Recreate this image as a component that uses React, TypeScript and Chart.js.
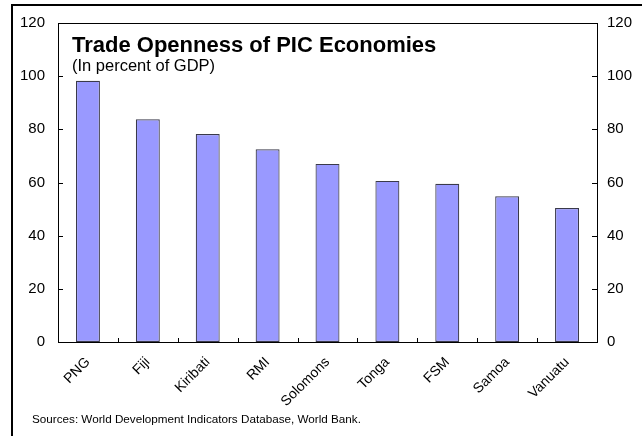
import React, { useEffect, useRef } from "react";
import { Chart, registerables } from "chart.js";

Chart.register(...registerables);

const categories = ["PNG", "Fiji", "Kiribati", "RMI", "Solomons", "Tonga", "FSM", "Samoa", "Vanuatu"];
const openness = [98.3, 83.8, 78.2, 72.5, 67.0, 60.6, 59.5, 54.8, 50.4];
const yTicks = [0, 20, 40, 60, 80, 100, 120];
const titleText = "Trade Openness of PIC Economies";
const subtitleText = "(In percent of GDP)";
const sourceText = "Sources: World Development Indicators Database, World Bank.";

const FONT = "'Liberation Sans', Arial, sans-serif";

const decorPlugin = {
  id: "decor",
  afterDraw(chart: any) {
    const { ctx, chartArea } = chart;
    const { left, right, top, bottom } = chartArea;
    const y = chart.scales.y;
    const x = chart.scales.x;
    ctx.save();
    ctx.strokeStyle = "#000";
    ctx.lineWidth = 1;
    ctx.strokeRect(Math.round(left) + 0.5, Math.round(top) + 0.5, Math.round(right - left), Math.round(bottom - top));
    ctx.beginPath();
    yTicks.forEach((v) => {
      const py = Math.round(y.getPixelForValue(v)) + 0.5;
      ctx.moveTo(left, py);
      ctx.lineTo(left + 5, py);
      ctx.moveTo(right, py);
      ctx.lineTo(right - 5, py);
    });
    for (let i = 1; i < categories.length; i++) {
      const px = Math.round((x.getPixelForValue(i - 1) + x.getPixelForValue(i)) / 2) + 0.5;
      ctx.moveTo(px, bottom);
      ctx.lineTo(px, bottom - 4);
    }
    ctx.stroke();
    ctx.fillStyle = "#000";
    ctx.textAlign = "left";
    ctx.textBaseline = "alphabetic";
    ctx.font = `bold 22px ${FONT}`;
    ctx.fillText(titleText, 72, 52);
    ctx.font = `16.5px ${FONT}`;
    ctx.fillText(subtitleText, 72, 71);
    ctx.font = `11.7px ${FONT}`;
    ctx.textBaseline = "middle";
    ctx.fillText(sourceText, 32, 420);
    ctx.restore();
  },
};

export default function App() {
  const ref = useRef<HTMLCanvasElement>(null);
  useEffect(() => {
    if (!ref.current) return;
    const chart = new Chart(ref.current, {
      type: "bar",
      data: {
        labels: categories,
        datasets: [
          {
            data: openness,
            backgroundColor: "#9999FF",
            borderColor: "#3a3a4a",
            borderWidth: 1.2,
            borderSkipped: false,
            categoryPercentage: 0.8,
            barPercentage: 0.5,
          },
        ],
      },
      options: {
        animation: false,
        responsive: false,
        maintainAspectRatio: false,
        layout: { padding: { top: 23, left: 0, right: 0, bottom: 0 } },
        plugins: { legend: { display: false }, tooltip: { enabled: false }, title: { display: false } },
        scales: {
          x: {
            type: "category",
            offset: true,
            grid: { display: false, drawTicks: false },
            border: { display: false },
            ticks: {
              minRotation: 45,
              maxRotation: 45,
              padding: 12,
              color: "#000",
              font: { family: FONT, size: 14 },
              autoSkip: false,
            },
            afterFit(scale: any) {
              scale.height = 94;
            },
          },
          y: {
            position: "left",
            min: 0,
            max: 120,
            grid: { display: false, drawTicks: false },
            border: { display: false },
            ticks: {
              stepSize: 20,
              padding: 13,
              color: "#000",
              font: { family: FONT, size: 15 },
            },
            afterFit(scale: any) {
              scale.width = 58;
            },
          },
          y2: {
            position: "right",
            min: 0,
            max: 120,
            grid: { display: false, drawTicks: false },
            border: { display: false },
            ticks: {
              stepSize: 20,
              padding: 10,
              color: "#000",
              font: { family: FONT, size: 15 },
            },
            afterFit(scale: any) {
              scale.width = 45;
            },
          },
        },
      },
      plugins: [decorPlugin],
    });
    return () => chart.destroy();
  }, []);
  return (
    <div style={{ position: "absolute", left: 0, top: 0, width: 642, height: 436, background: "#fff" }}>
      <canvas ref={ref} width={642} height={436} style={{ position: "absolute", left: 0, top: 0 }} />
      <div
        style={{
          position: "absolute",
          left: 11,
          top: 4,
          width: 631,
          height: 432,
          borderLeft: "2px solid #000",
          borderTop: "2px solid #000",
          boxSizing: "border-box",
          pointerEvents: "none",
        }}
      />
    </div>
  );
}
